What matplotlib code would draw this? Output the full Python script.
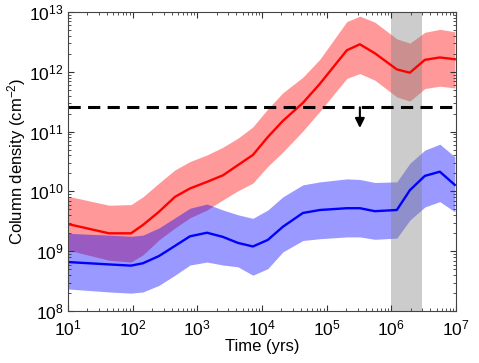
import numpy as np
import matplotlib
matplotlib.use("Agg")
import matplotlib.pyplot as plt

plt.rcParams['font.family'] = ['Liberation Sans', 'DejaVu Sans']
plt.rcParams['mathtext.fontset'] = 'custom'
plt.rcParams['mathtext.rm'] = 'Liberation Sans'
plt.rcParams['mathtext.it'] = 'Liberation Sans'

# time grid (yrs)
log_time = [1.0, 1.634, 1.974, 2.159, 2.406, 2.654, 2.886, 3.149, 3.396, 3.627, 3.859,
            4.09, 4.323, 4.632, 4.895, 5.312, 5.513, 5.745, 6.085, 6.286, 6.518, 6.75, 6.981]

# log10 column density (cm^-2)
red_mid = [9.455, 9.30, 9.30, 9.44, 9.66, 9.91, 10.05, 10.16, 10.27, 10.44, 10.61,
           10.91, 11.18, 11.48, 11.80, 12.36, 12.46, 12.31, 12.04, 11.985, 12.20, 12.24, 12.21]
red_hi = [9.92, 9.77, 9.78, 9.91, 10.14, 10.36, 10.50, 10.61, 10.74, 10.89, 11.08,
          11.38, 11.65, 11.91, 12.21, 12.84, 12.93, 12.83, 12.55, 12.48, 12.66, 12.71, 12.67]
red_lo = [9.02, 8.85, 8.82, 8.94, 9.19, 9.39, 9.56, 9.69, 9.86, 10.01, 10.14,
          10.42, 10.66, 11.01, 11.34, 11.89, 11.97, 11.86, 11.58, 11.51, 11.72, 11.76, 11.73]

blue_mid = [8.82, 8.78, 8.76, 8.80, 8.92, 9.09, 9.25, 9.31, 9.24, 9.14, 9.08,
            9.19, 9.41, 9.64, 9.69, 9.72, 9.72, 9.67, 9.69, 10.02, 10.26, 10.33, 10.11]
blue_hi = [9.30, 9.27, 9.25, 9.27, 9.39, 9.56, 9.72, 9.79, 9.69, 9.61, 9.55,
           9.69, 9.91, 10.11, 10.16, 10.21, 10.20, 10.15, 10.16, 10.47, 10.69, 10.79, 10.58]
blue_lo = [8.37, 8.32, 8.30, 8.32, 8.43, 8.60, 8.77, 8.82, 8.77, 8.74, 8.60,
           8.71, 8.99, 9.18, 9.21, 9.24, 9.24, 9.20, 9.22, 9.52, 9.74, 9.83, 9.66]

upper_limit = 2.55e11
arrow_time = 3.26e5
arrow_tip = 1.15e11
gray_span = [1.0e6, 2.95e6]

t = 10 ** np.array(log_time)
p = lambda a: 10 ** np.array(a)

fig = plt.figure(figsize=(4.79, 3.63), dpi=100)
ax = fig.add_axes([0.142, 0.143, 0.810, 0.824])

ax.fill_between(t, p(red_lo), p(red_hi), color='red', alpha=0.4, lw=0)
ax.fill_between(t, p(blue_lo), p(blue_hi), color='blue', alpha=0.4, lw=0)
ax.axvspan(gray_span[0], gray_span[1], color='gray', alpha=0.4, lw=0)
ax.plot(t, p(red_mid), color='red', lw=1.7)
ax.plot(t, p(blue_mid), color='blue', lw=1.7)
ax.axhline(upper_limit, color='black', lw=2.2, ls=(0, (4, 2.4)))
ax.annotate('', xy=(arrow_time, arrow_tip), xytext=(arrow_time, upper_limit),
            arrowprops=dict(arrowstyle='-|>', color='black', lw=1.5,
                            mutation_scale=14, shrinkA=0, shrinkB=0))

ax.set_xscale('log')
ax.set_yscale('log')
ax.set_xlim(10, 1e7)
ax.set_ylim(1e8, 1e13)
ax.set_xlabel('Time (yrs)', fontsize=12, labelpad=1)
ax.set_ylabel('Column density (cm$^{-2}$)', fontsize=12, labelpad=1)
ax.tick_params(which='both', direction='in', top=True, right=True, labelsize=12.5, color='#333333')
ax.tick_params(which='major', length=4)
ax.tick_params(which='minor', length=2)
ax.tick_params(axis='x', which='major', pad=5)
ax.tick_params(axis='y', which='major', pad=3)
for s in ax.spines.values():
    s.set_color('#444444')
    s.set_linewidth(0.8)

fig.savefig('out.png', dpi=100)
